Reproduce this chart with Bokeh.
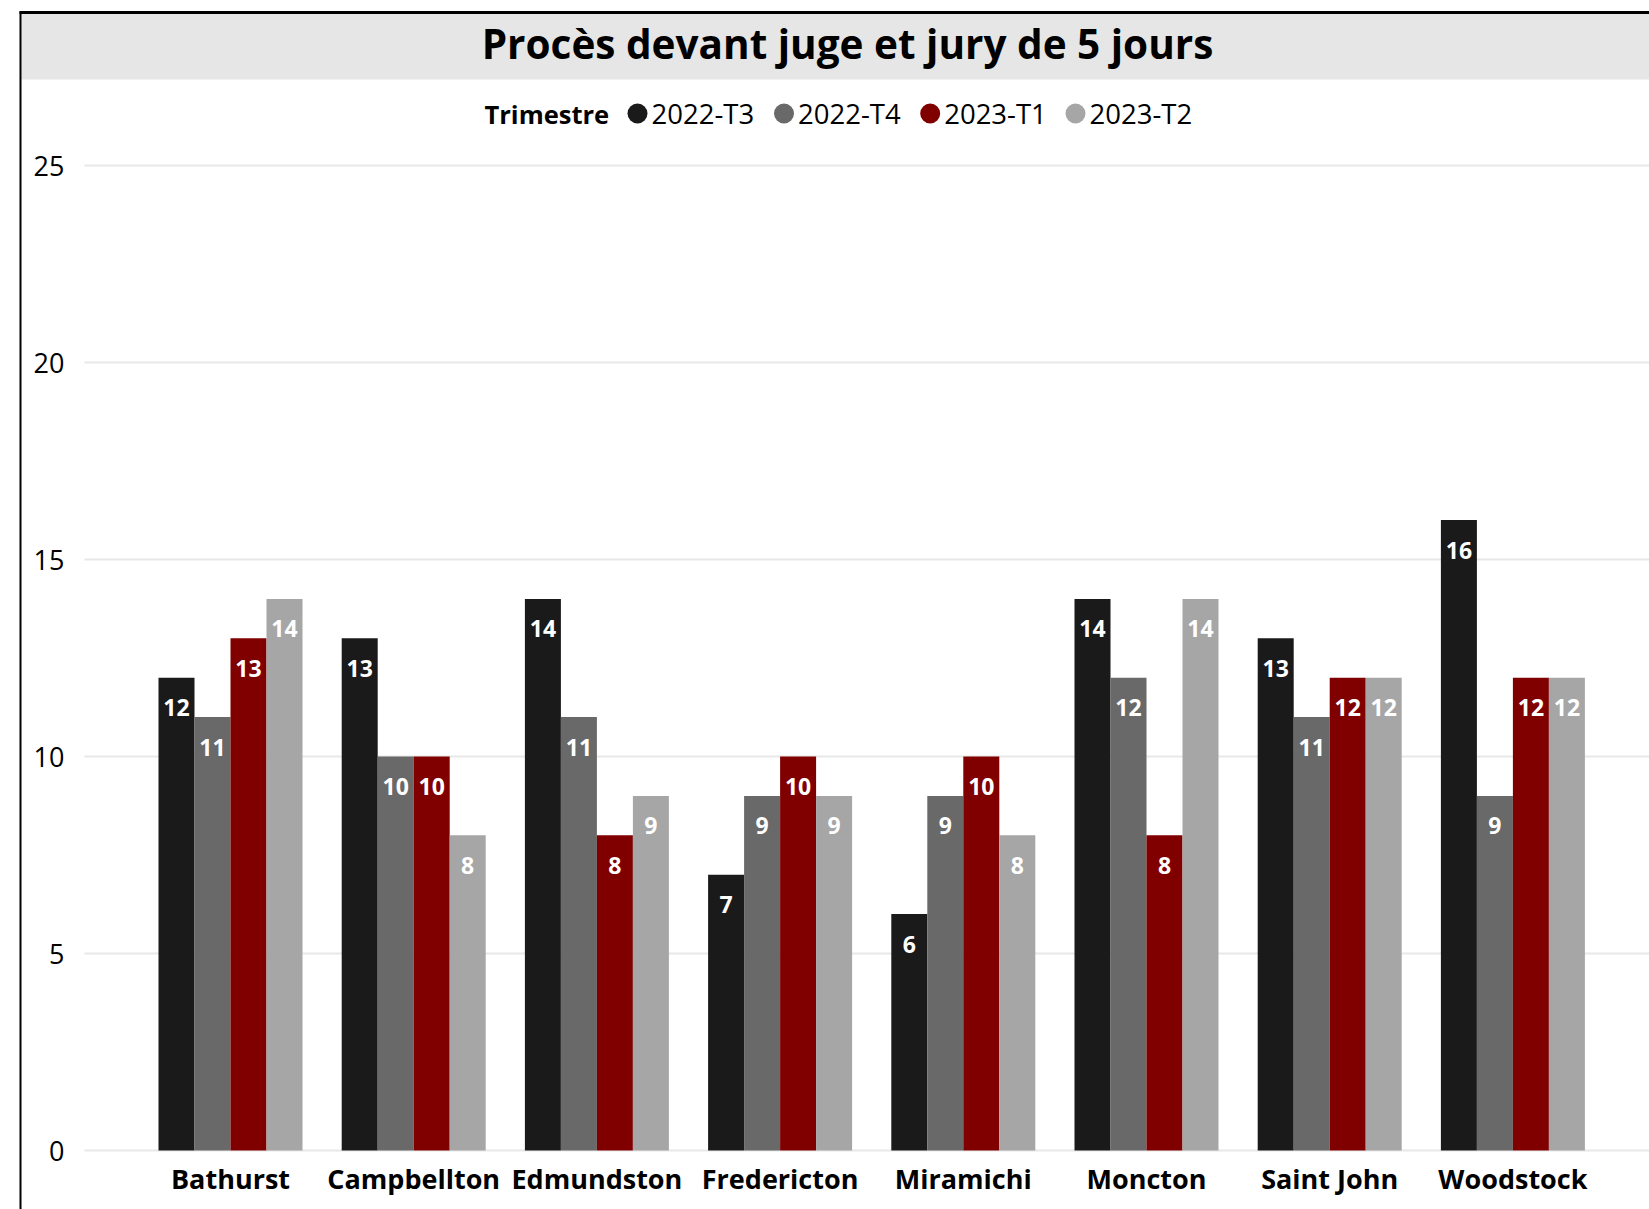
import numpy as np
from bokeh.plotting import figure
from bokeh.models import Range1d, FixedTicker
from bokeh.core.properties import value
from bokeh.embed import file_html
from bokeh.resources import INLINE

# ---------------- data ----------------
title_text = "Procès devant juge et jury de 5 jours"
legend_title = "Trimestre"
categories = ["Bathurst", "Campbellton", "Edmundston", "Fredericton",
              "Miramichi", "Moncton", "Saint John", "Woodstock"]
series_names = ["2022-T3", "2022-T4", "2023-T1", "2023-T2"]
s_2022_t3 = [12, 13, 14, 7, 6, 14, 13, 16]
s_2022_t4 = [11, 10, 11, 9, 9, 12, 11, 9]
s_2023_t1 = [13, 10, 8, 10, 10, 8, 12, 12]
s_2023_t2 = [14, 8, 9, 9, 8, 14, 12, 12]
y_ticks = [0, 5, 10, 15, 20, 25]

series = [s_2022_t3, s_2022_t4, s_2023_t1, s_2023_t2]
colors = ["#1a1a1a", "#696969", "#800000", "#a6a6a6"]

# ---------------- layout (page pixels) ----------------
W, H = 1649, 1209          # figure size
OFF = 0
CAT0_PX = 230.0            # page x of first category centre
CAT_STEP = 183.2           # px per category
Y0_PX = 1150.0             # page y of value 0
Y_STEP = 39.4              # px per unit
BAR_W = 36.0 / CAT_STEP    # bar width in data units
FONT = "Open Sans"

def px2x(px):
    return (px - CAT0_PX) / CAT_STEP

def py2y(py):
    return (Y0_PX - py) / Y_STEP

p = figure(width=W, height=H, output_backend="svg", toolbar_location=None,
           x_range=Range1d(px2x(OFF), px2x(OFF + W)),
           y_range=Range1d(py2y(OFF + H), py2y(OFF)),
           min_border=0, min_border_left=0, min_border_right=0,
           min_border_top=0, min_border_bottom=0)
p.outline_line_color = None
p.background_fill_color = "white"
p.border_fill_color = "white"
p.xgrid.visible = False
p.ygrid.visible = False

# chart border and title bar
p.quad(left=[px2x(21)], right=[px2x(1660)], top=[py2y(13)], bottom=[py2y(79)],
       fill_color="#e6e6e6", line_color=None)
p.segment(x0=[px2x(19)], x1=[px2x(1660)], y0=[py2y(12)], y1=[py2y(12)],
          line_color="black", line_width=3)
p.segment(x0=[px2x(20)], x1=[px2x(20)], y0=[py2y(11)], y1=[py2y(1220)],
          line_color="black", line_width=2)

p.text(x=[px2x(847)], y=[py2y(43)], text=[title_text], text_align="center",
       text_baseline="middle", text_font=value(FONT), text_font_style="bold",
       text_font_size="40.5px", text_color="black")

# horizontal gridlines from tick values
p.segment(x0=[px2x(84)] * len(y_ticks), x1=[px2x(1660)] * len(y_ticks),
          y0=y_ticks, y1=y_ticks, line_color="#e8e8e8", line_width=2)

# bars
xs = np.arange(len(categories), dtype=float)
for j, (vals, col) in enumerate(zip(series, colors)):
    bx = xs + (j - 1.5) * BAR_W
    p.vbar(x=bx, top=vals, bottom=0, width=BAR_W, fill_color=col, line_color=None)
    p.text(x=bx, y=vals, text=[str(v) for v in vals], y_offset=30,
           text_align="center", text_baseline="middle", text_font=value(FONT),
           text_font_style="bold", text_font_size="23px", text_color="white")

# legend
leg_y = py2y(113)
p.text(x=[px2x(484)], y=[leg_y], text=[legend_title], text_align="left",
       text_baseline="middle", text_font=value(FONT), text_font_style="bold",
       text_font_size="25.5px", text_color="black")
leg_cx = [637, 783.5, 929.7, 1075]
for cx, name, col in zip(leg_cx, series_names, colors):
    p.scatter(x=[px2x(cx)], y=[leg_y], marker="circle", size=20,
              fill_color=col, line_color=None)
    p.text(x=[px2x(cx + 14)], y=[leg_y], text=[name], text_align="left",
           text_baseline="middle", text_font=value(FONT),
           text_font_size="27.5px", text_color="black")

# y axis
ya = p.yaxis[0]
ya.fixed_location = px2x(84)
ya.ticker = FixedTicker(ticks=y_ticks)
ya.axis_line_color = None
ya.major_tick_line_color = None
ya.minor_tick_line_color = None
ya.major_tick_out = 0
ya.major_label_standoff = 20
ya.major_label_text_font = FONT
ya.major_label_text_font_size = "27px"
ya.major_label_text_color = "black"

# x axis
xa = p.xaxis[0]
xa.fixed_location = 0
xa.ticker = FixedTicker(ticks=list(range(len(categories))))
xa.major_label_overrides = {i: c for i, c in enumerate(categories)}
xa.axis_line_color = None
xa.major_tick_line_color = None
xa.minor_tick_line_color = None
xa.major_tick_out = 0
xa.major_label_standoff = 9
xa.major_label_text_font = FONT
xa.major_label_text_font_style = "bold"
xa.major_label_text_font_size = "27px"
xa.major_label_text_color = "black"

open("out.html", "w").write(file_html(p, INLINE))
